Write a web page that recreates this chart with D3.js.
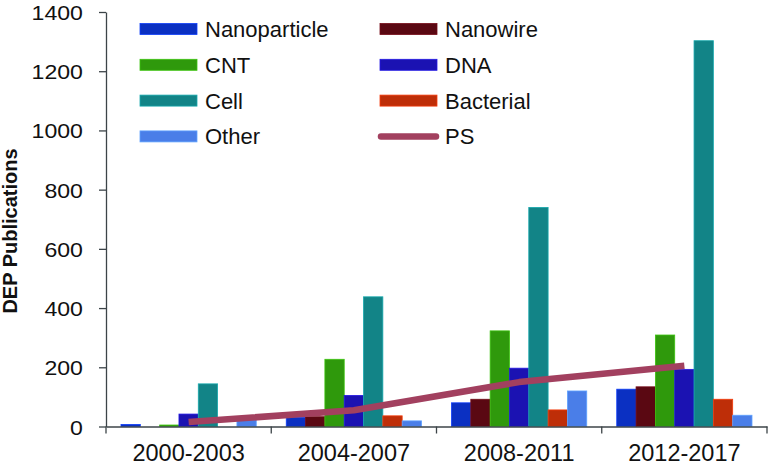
<!DOCTYPE html>
<html>
<head>
<meta charset="utf-8">
<script src="https://cdn.jsdelivr.net/npm/d3@7"></script>
<style>
  html, body { margin: 0; padding: 0; background: #fff; }
  svg { display: block; font-family: "Liberation Sans", Arial, Helvetica, sans-serif; }
</style>
</head>
<body>
<svg id="chart" width="771" height="466"></svg>
<script>
const categories = ["2000-2003", "2004-2007", "2008-2011", "2012-2017"];
const seriesNames = ["Nanoparticle", "Nanowire", "CNT", "DNA", "Cell", "Bacterial", "Other"];
const nanoparticle = [7, 31, 80, 126];
const nanowire = [0, 33, 92, 134];
const cnt = [5, 227, 323, 309];
const dna = [42, 105, 197, 193];
const cell = [144, 438, 740, 1303];
const bacterial = [0, 36, 56, 92];
const other = [22, 19, 120, 38];
const ps = [15, 55, 150, 205];
const yTicks = [0, 200, 400, 600, 800, 1000, 1200, 1400];

const seriesValues = [nanoparticle, nanowire, cnt, dna, cell, bacterial, other];
const colors = {
  Nanoparticle: "#0b30c2",
  Nanowire: "#5a0812",
  CNT: "#2f990c",
  DNA: "#1b12b2",
  Cell: "#128487",
  Bacterial: "#be2e08",
  Other: "#4a7ee8",
  PS: "#a2405f"
};

const svg = d3.select("#chart");
const plotLeft = 106, plotRight = 767, plotTop = 12, plotBottom = 426.5;

const x0 = d3.scaleBand().domain(categories).range([plotLeft, plotRight]).paddingInner(0).paddingOuter(0);
const x1 = d3.scaleBand().domain(seriesNames).range([15, x0.bandwidth() - 15]).padding(0);
const y = d3.scaleLinear().domain([0, 1400]).range([plotBottom, plotTop]);

// bars
const groups = svg.append("g").selectAll("g")
  .data(categories)
  .join("g")
  .attr("transform", d => `translate(${x0(d)},0)`);

groups.selectAll("rect")
  .data((d, i) => seriesNames.map((s, j) => ({ s, v: seriesValues[j][i] })))
  .join("rect")
  .attr("x", d => x1(d.s))
  .attr("width", x1.bandwidth())
  .attr("y", d => y(d.v))
  .attr("height", d => plotBottom - y(d.v))
  .attr("fill", d => colors[d.s])
  .attr("stroke", d => d.v > 0 ? d3.color(colors[d.s]).brighter(0.7) : "none")
  .attr("stroke-width", 0.8);

// PS line
const line = d3.line()
  .x((d, i) => x0(categories[i]) + x0.bandwidth() / 2)
  .y(d => y(d));
svg.append("path")
  .datum(ps)
  .attr("d", line)
  .attr("fill", "none")
  .attr("stroke", colors.PS)
  .attr("stroke-width", 6.5)
  .attr("stroke-linejoin", "round");

// y axis
const yAxis = svg.append("g")
  .attr("transform", `translate(${plotLeft},0)`)
  .call(d3.axisLeft(y).tickValues(yTicks).tickSize(7).tickSizeOuter(0).tickPadding(14).tickFormat(d3.format("d")));
yAxis.select(".domain").attr("stroke", "#3c4448").attr("stroke-width", 1.3);
yAxis.selectAll(".tick line").attr("stroke", "#3c4448").attr("stroke-width", 1.3);
yAxis.selectAll(".tick text")
  .attr("fill", "#111")
  .style("font-size", "21px")
  .attr("transform", "scale(1.1,1)")
  .attr("dy", "0.36em");

// x axis
const xAxis = svg.append("g")
  .attr("transform", `translate(0,${plotBottom})`)
  .call(d3.axisBottom(x0).tickSize(0).tickSizeOuter(0).tickPadding(0));
xAxis.select(".domain").attr("stroke", "#3c4448").attr("stroke-width", 1.3);
xAxis.selectAll(".tick text")
  .attr("fill", "#111")
  .style("font-size", "23.5px")
  .attr("y", 34.5)
  .attr("dy", "0");
const bounds = categories.map(c => x0(c)).concat([x0(categories[categories.length - 1]) + x0.bandwidth()]);
xAxis.selectAll("line.bound")
  .data(bounds)
  .join("line")
  .attr("class", "bound")
  .attr("x1", d => d).attr("x2", d => d)
  .attr("y1", 0).attr("y2", 7)
  .attr("stroke", "#3c4448").attr("stroke-width", 1.3);

// y label
svg.append("text")
  .attr("transform", "translate(17,231) rotate(-90)")
  .attr("text-anchor", "middle")
  .style("font-size", "20px")
  .style("font-weight", "bold")
  .attr("fill", "#111")
  .text("DEP Publications");

// legend
const legendItems = ["Nanoparticle", "Nanowire", "CNT", "DNA", "Cell", "Bacterial", "Other", "PS"];
const legend = svg.append("g");
legendItems.forEach((name, i) => {
  const col = i % 2, row = Math.floor(i / 2);
  const sx = col === 0 ? 140 : 380;
  const cy = 29 + row * 35.8;
  if (name === "PS") {
    legend.append("line")
      .attr("x1", sx + 1).attr("x2", sx + 56)
      .attr("y1", cy).attr("y2", cy)
      .attr("stroke", colors.PS).attr("stroke-width", 6.5)
      .attr("stroke-linecap", "round");
  } else {
    legend.append("rect")
      .attr("x", sx).attr("y", cy - 5.5)
      .attr("width", 57).attr("height", 11)
      .attr("fill", colors[name])
      .attr("stroke", d3.color(colors[name]).brighter(0.7))
      .attr("stroke-width", 0.8);
  }
  legend.append("text")
    .attr("x", sx + 65)
    .attr("y", cy + 8)
    .style("font-size", "22px")
    .attr("fill", "#111")
    .text(name);
});
</script>
</body>
</html>
